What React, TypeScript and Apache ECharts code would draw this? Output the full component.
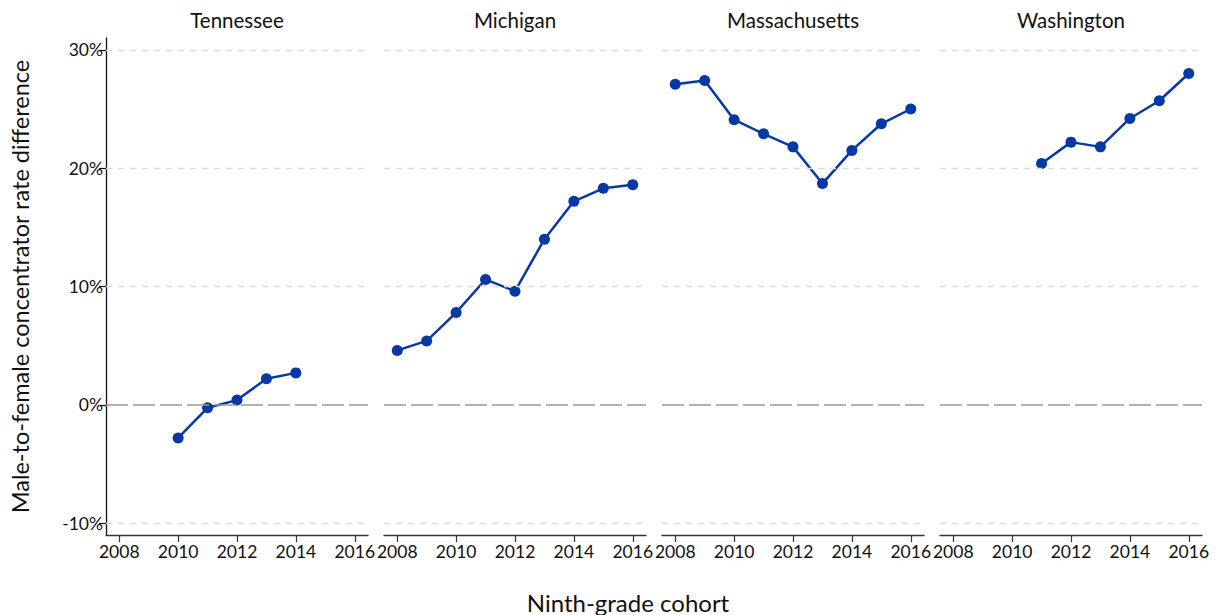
import React, { useEffect, useRef } from 'react';
import * as echarts from 'echarts';

const states = ['Tennessee', 'Michigan', 'Massachusetts', 'Washington'];
const tennesseeYears = [2010, 2011, 2012, 2013, 2014];
const tennesseeValues = [-2.8, -0.25, 0.4, 2.2, 2.7];
const michiganYears = [2008, 2009, 2010, 2011, 2012, 2013, 2014, 2015, 2016];
const michiganValues = [4.6, 5.4, 7.8, 10.6, 9.6, 14.0, 17.2, 18.3, 18.6];
const massachusettsYears = [2008, 2009, 2010, 2011, 2012, 2013, 2014, 2015, 2016];
const massachusettsValues = [27.1, 27.4, 24.1, 22.9, 21.8, 18.7, 21.5, 23.75, 25.0];
const washingtonYears = [2011, 2012, 2013, 2014, 2015, 2016];
const washingtonValues = [20.4, 22.2, 21.8, 24.2, 25.7, 28.0];
const xTicks = [2008, 2010, 2012, 2014, 2016];
const yTicks = [-10, 0, 10, 20, 30];
const gridLevels = [-10, 10, 20, 30];
const zeroLevel = 0;

const panelYears = [tennesseeYears, michiganYears, massachusettsYears, washingtonYears];
const panelValues = [tennesseeValues, michiganValues, massachusettsValues, washingtonValues];

const FONT = 'Lato, "Open Sans", sans-serif';
const BLUE = '#0639a6';

export default function App() {
  const ref = useRef<HTMLDivElement>(null);
  useEffect(() => {
    if (!ref.current) return;
    const chart = echarts.init(ref.current, null, { renderer: 'svg' });
    const lefts = [106, 384, 662, 940];
    const width = 262;
    const top = 38;
    const height = 497;

    const grids = lefts.map((l) => ({ left: l, top, width, height }));
    const xAxes = lefts.map((_, i) => ({
      type: 'value',
      gridIndex: i,
      min: 2007.55,
      max: 2016.45,
      axisLine: { show: true, onZero: false, lineStyle: { color: '#333', width: 1.3 } },
      axisTick: { show: true, customValues: xTicks, length: 7, lineStyle: { color: '#333', width: 1.2 } },
      axisLabel: {
        show: true,
        customValues: xTicks,
        formatter: (v: number) => String(v),
        fontFamily: FONT,
        fontSize: 17.5,
        color: '#111',
        margin: 7,
        hideOverlap: false,
        showMinLabel: true,
        showMaxLabel: true,
      },
      splitLine: { show: false },
    }));
    const yAxes = lefts.map((_, i) => ({
      type: 'value',
      gridIndex: i,
      min: -11,
      max: 31,
      name: i === 0 ? 'Male-to-female concentrator rate difference' : '',
      nameLocation: 'middle',
      nameGap: 74,
      nameTextStyle: { fontFamily: FONT, fontSize: 23.5, color: '#111' },
      axisLine: { show: i === 0, onZero: false, lineStyle: { color: '#111', width: 1.3 } },
      axisTick: { show: i === 0, customValues: yTicks, length: 7, lineStyle: { color: '#111', width: 1.2 } },
      axisLabel: {
        show: i === 0,
        customValues: yTicks,
        formatter: (v: number) => `${v}%`,
        fontFamily: FONT,
        fontSize: 17.5,
        color: '#111',
        margin: 3,
      },
      splitLine: { show: false },
    }));

    const series: any[] = [];
    lefts.forEach((_, i) => {
      series.push({
        type: 'line',
        xAxisIndex: i,
        yAxisIndex: i,
        data: [],
        z: 1,
        silent: true,
        markLine: {
          silent: true,
          symbol: ['none', 'none'],
          label: { show: false },
          data: [
            ...gridLevels.map((v) => ({
              yAxis: v,
              lineStyle: { color: '#dcdcdc', type: [6, 6], width: 1.3 },
            })),
            { yAxis: zeroLevel, lineStyle: { color: '#9a9a9a', type: [22, 5], width: 1.6 } },
          ],
        },
      });
      series.push({
        type: 'line',
        name: states[i],
        xAxisIndex: i,
        yAxisIndex: i,
        z: 3,
        data: panelYears[i].map((y, k) => [y, panelValues[i][k]]),
        symbol: 'circle',
        symbolSize: 11,
        showSymbol: true,
        itemStyle: { color: BLUE },
        lineStyle: { color: BLUE, width: 2.5 },
      });
    });

    const graphic: any[] = states.map((s, i) => ({
      type: 'text',
      x: lefts[i] + width / 2,
      y: 20,
      style: {
        text: s,
        textAlign: 'center',
        textVerticalAlign: 'middle',
        fontFamily: FONT,
        fontSize: 20.5,
        fill: '#111',
      },
    }));
    graphic.push({
      type: 'text',
      x: 628,
      y: 602,
      style: {
        text: 'Ninth-grade cohort',
        textAlign: 'center',
        textVerticalAlign: 'middle',
        fontFamily: FONT,
        fontSize: 24,
        fill: '#111',
      },
    });

    chart.setOption({
      animation: false,
      backgroundColor: '#fff',
      grid: grids,
      xAxis: xAxes,
      yAxis: yAxes,
      series,
      graphic,
    });
    return () => chart.dispose();
  }, []);
  return (
    <div
      ref={ref}
      style={{ position: 'fixed', left: 0, top: 0, width: 1216, height: 615, background: '#fff' }}
    />
  );
}
